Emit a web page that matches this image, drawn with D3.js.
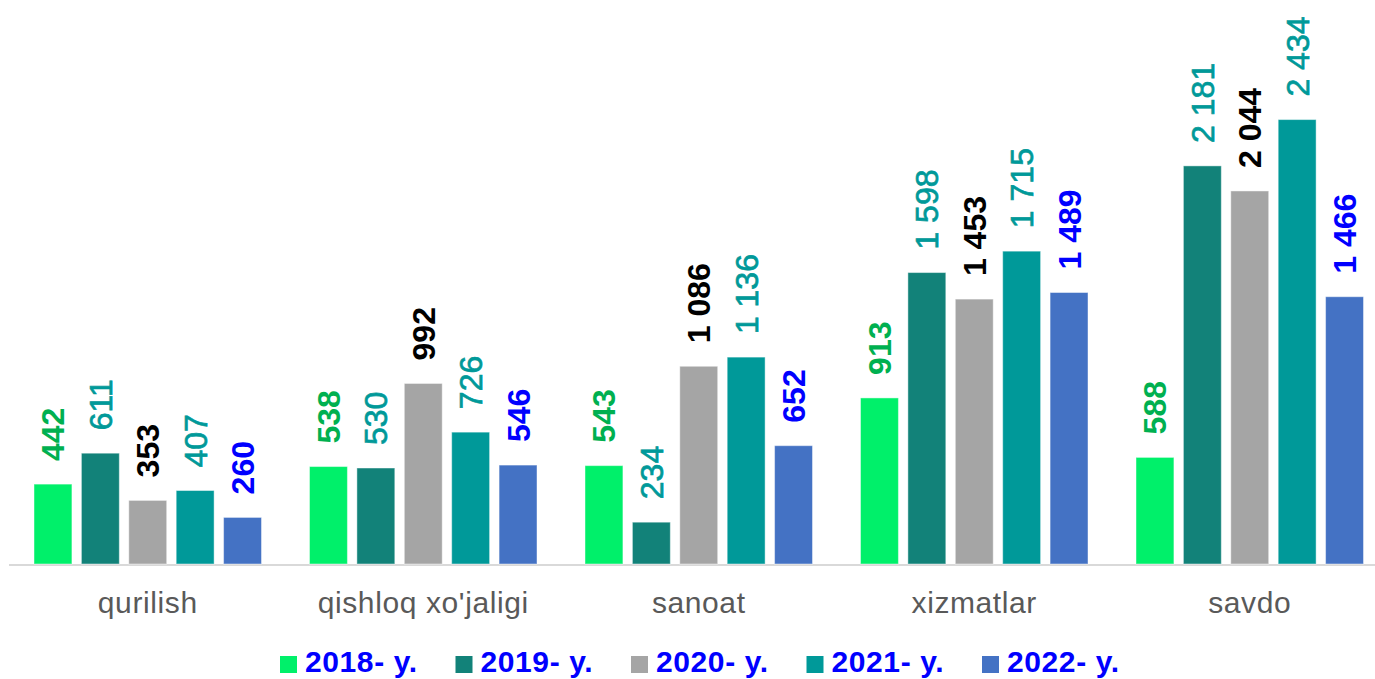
<!DOCTYPE html>
<html>
<head>
<meta charset="utf-8">
<script src="https://cdn.jsdelivr.net/npm/d3@7"></script>
<style>
  html, body { margin: 0; padding: 0; background: #fff; }
  svg { display: block; }
</style>
</head>
<body>
<svg id="chart" width="1375" height="679"></svg>
<script>
const categories = ["qurilish", "qishloq xo'jaligi", "sanoat", "xizmatlar", "savdo"];
const years = ["2018- y.", "2019- y.", "2020- y.", "2021- y.", "2022- y."];
const v2018 = [442, 538, 543, 913, 588];
const v2019 = [611, 530, 234, 1598, 2181];
const v2020 = [353, 992, 1086, 1453, 2044];
const v2021 = [407, 726, 1136, 1715, 2434];
const v2022 = [260, 546, 652, 1489, 1466];
const seriesValues = [v2018, v2019, v2020, v2021, v2022];

const barColors = ["#00F06A", "#128279", "#A5A5A5", "#009999", "#4472C4"];
const labelColors = ["#00B050", "#009999", "#000000", "#009999", "#0000FF"];
const labelWeights = ["bold", "normal", "bold", "normal", "bold"];

const svg = d3.select("#chart");
const baseY = 565;

const x0 = d3.scaleBand().domain(categories).range([10, 1387.5]).padding(0);
const x1 = d3.scaleBand().domain(years).range([24, x0.bandwidth() - 24]).paddingInner(0.2);
const y = d3.scaleLinear().domain([0, 3000]).range([baseY, 16]);

const fmt = d3.formatLocale({decimal: ",", thousands: "\u00A0", grouping: [3], currency: ["", ""]}).format(",d");

// axis line
svg.append("line")
  .attr("x1", 9).attr("x2", 1375)
  .attr("y1", baseY).attr("y2", baseY)
  .attr("stroke", "#D9D9D9").attr("stroke-width", 2);

const data = [];
categories.forEach((c, ci) => {
  years.forEach((yr, si) => {
    data.push({cat: c, year: yr, si: si, value: seriesValues[si][ci]});
  });
});

svg.append("g").selectAll("rect").data(data).join("rect")
  .attr("x", d => x0(d.cat) + x1(d.year))
  .attr("y", d => y(d.value))
  .attr("width", x1.bandwidth())
  .attr("height", d => y(0) - y(d.value) - 1)
  .attr("fill", d => barColors[d.si])
  .attr("stroke", "rgba(255,255,255,0.45)")
  .attr("stroke-width", 1);

svg.append("g").selectAll("text").data(data).join("text")
  .attr("transform", d => `translate(${x0(d.cat) + x1(d.year) + x1.bandwidth() / 2},${y(d.value) - 23}) rotate(-90)`)
  .attr("dy", "0.36em")
  .attr("text-anchor", "start")
  .attr("font-family", "'Liberation Sans', Arial, sans-serif")
  .attr("font-size", 32)
  .attr("font-weight", d => labelWeights[d.si])
  .attr("fill", d => labelColors[d.si])
  .attr("stroke", d => labelWeights[d.si] === "normal" ? labelColors[d.si] : "none")
  .attr("stroke-width", 0.7)
  .text(d => fmt(d.value));

// category labels
svg.append("g").selectAll("text").data(categories).join("text")
  .attr("x", d => x0(d) + x0.bandwidth() / 2)
  .attr("y", 613)
  .attr("text-anchor", "middle")
  .attr("font-family", "'Liberation Sans', Arial, sans-serif")
  .attr("font-size", 30)
  .attr("letter-spacing", 0.6)
  .attr("fill", "#595959")
  .text(d => d);

// legend
const legendX = d3.scalePoint().domain(years).range([280, 982]);
const lg = svg.append("g").selectAll("g").data(years).join("g")
  .attr("transform", d => `translate(${legendX(d)},0)`);
lg.append("rect")
  .attr("x", 0).attr("y", 656).attr("width", 17).attr("height", 17)
  .attr("fill", (d, i) => barColors[i]);
lg.append("text")
  .attr("x", 25).attr("y", 672)
  .attr("font-family", "'Liberation Sans', Arial, sans-serif")
  .attr("font-size", 30)
  .attr("font-weight", "bold")
  .attr("letter-spacing", 0.6)
  .attr("fill", "#0000FF")
  .text(d => d);
</script>
</body>
</html>
